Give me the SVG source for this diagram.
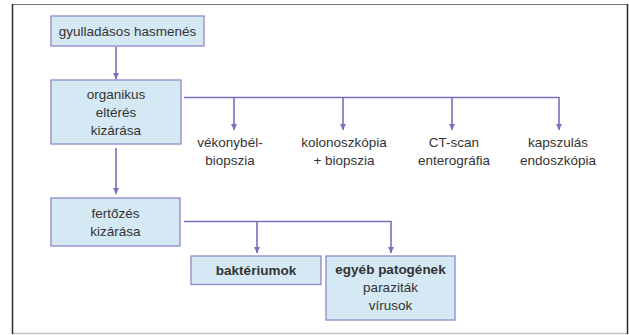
<svg xmlns="http://www.w3.org/2000/svg" width="629" height="335" viewBox="0 0 629 335">
<defs>
<style>
.box{fill:#d4e9f4;stroke:#8f86cc;stroke-width:1.3}
.t{font-family:"Liberation Sans",Arial,sans-serif;font-size:13.5px;fill:#333;text-anchor:middle}
.b{font-weight:bold}
.c{fill:none;stroke:#7a6fbd;stroke-width:1.6}
</style>
<marker id="ah" viewBox="0 0 10 10" refX="10" refY="5" markerWidth="6" markerHeight="6" markerUnits="userSpaceOnUse" orient="auto">
<path d="M0,0 L10,5 L0,10 z" fill="#7a6fbd"/>
</marker>
</defs>
<rect x="0" y="0" width="629" height="335" fill="#fff"/>
<g id="frame">
<line x1="12" y1="4.5" x2="628" y2="4.5" stroke="#777" stroke-width="1.2"/>
<line x1="12" y1="333.5" x2="628" y2="333.5" stroke="#c4c4c4" stroke-width="1.5"/>
<line x1="12.5" y1="4" x2="12.5" y2="334" stroke="#2a2a2a" stroke-width="1.5"/>
<line x1="627.5" y1="4" x2="627.5" y2="334" stroke="#2a2a2a" stroke-width="1.5"/>
</g>
<g id="connectors">
<line class="c" x1="116" y1="47" x2="116" y2="79" marker-end="url(#ah)"/>
<polyline class="c" points="184,97.5 559,97.5"/>
<line class="c" x1="234" y1="97.5" x2="234" y2="130" marker-end="url(#ah)"/>
<line class="c" x1="343" y1="97.5" x2="343" y2="130" marker-end="url(#ah)"/>
<line class="c" x1="452" y1="97.5" x2="452" y2="130" marker-end="url(#ah)"/>
<line class="c" x1="559" y1="97" x2="559" y2="130" marker-end="url(#ah)"/>
<line class="c" x1="116" y1="148" x2="116" y2="194" marker-end="url(#ah)"/>
<polyline class="c" points="184,221.5 391,221.5"/>
<line class="c" x1="257" y1="221.5" x2="257" y2="253" marker-end="url(#ah)"/>
<line class="c" x1="391" y1="221" x2="391" y2="253" marker-end="url(#ah)"/>
</g>
<g id="n1">
<rect class="box" x="51" y="16" width="153" height="30"/>
<text class="t" x="127.5" y="35.5">gyulladásos hasmenés</text>
</g>
<g id="n2">
<rect class="box" x="51" y="80" width="130" height="64"/>
<text class="t" x="116" y="98.5">organikus</text>
<text class="t" x="116" y="116.5">eltérés</text>
<text class="t" x="116" y="134.5">kizárása</text>
</g>
<g id="n3">
<text class="t" x="230" y="147">vékonybél-</text>
<text class="t" x="230" y="165">biopszia</text>
</g>
<g id="n4">
<text class="t" x="344" y="147">kolonoszkópia</text>
<text class="t" x="344" y="165">+ biopszia</text>
</g>
<g id="n5">
<text class="t" x="454" y="147">CT-scan</text>
<text class="t" x="454" y="165">enterográfia</text>
</g>
<g id="n6">
<text class="t" x="558" y="147">kapszulás</text>
<text class="t" x="558" y="165">endoszkópia</text>
</g>
<g id="n7">
<rect class="box" x="51" y="198" width="129" height="48"/>
<text class="t" x="115.5" y="218">fertőzés</text>
<text class="t" x="115.5" y="236">kizárása</text>
</g>
<g id="n8">
<rect class="box" x="191" y="256" width="130" height="28.5"/>
<text class="t b" x="256" y="274.5">baktériumok</text>
</g>
<g id="n9">
<rect class="box" x="326" y="256" width="129" height="64"/>
<text class="t b" x="390.5" y="273.5">egyéb patogének</text>
<text class="t" x="390.5" y="291.5">paraziták</text>
<text class="t" x="390.5" y="309.5">vírusok</text>
</g>
</svg>
